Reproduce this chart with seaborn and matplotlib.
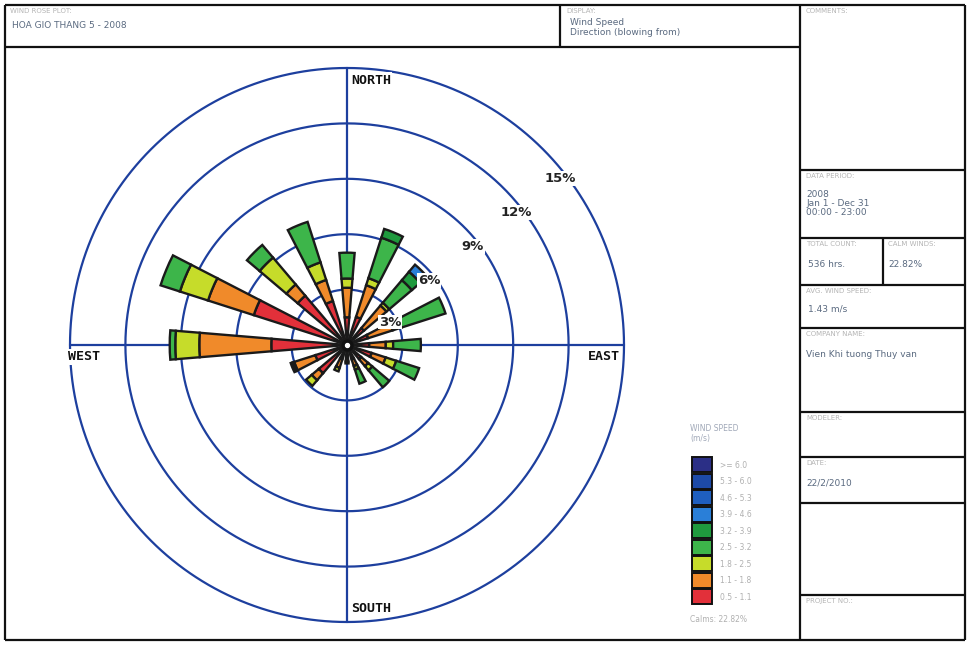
import numpy as np
import matplotlib
matplotlib.use("Agg")
import matplotlib.pyplot as plt
from matplotlib.patches import Rectangle
from matplotlib.lines import Line2D
import seaborn as sns

# ---- wind rose data: frequency (%) per direction and speed class ----
directions = ["N", "NNE", "NE", "ENE", "E", "ESE", "SE", "SSE",
              "S", "SSW", "SW", "WSW", "W", "WNW", "NW", "NNW"]
speed_labels = ["0.5 - 1.1", "1.1 - 1.8", "1.8 - 2.5", "2.5 - 3.2", "3.2 - 3.9",
                "3.9 - 4.6", "4.6 - 5.3", "5.3 - 6.0", ">= 6.0"]

freq_c1 = [1.5, 1.6, 1.2, 1.2, 1.2, 1.4, 1.0, 0.8, 0.6, 0.8, 2.0, 1.8, 4.1, 5.3, 3.5, 2.5]
freq_c2 = [1.6, 1.8, 1.6, 1.4, 0.9, 0.8, 0.5, 0.4, 0.3, 0.5, 0.5, 1.2, 3.9, 2.6, 0.8, 1.2]
freq_c3 = [0.5, 0.4, 0.2, 0.5, 0.4, 0.6, 0.3, 0.2, 0.1, 0.2, 0.4, 0.1, 1.3, 1.6, 1.9, 1.0]
freq_c4 = [1.4, 2.3, 1.6, 2.5, 1.5, 1.3, 1.2, 0.8, 0.0, 0.0, 0.0, 0.1, 0.3, 1.1, 0.9, 2.3]
freq_c5 = [0.0, 0.5, 0.6, 0.0, 0.0, 0.0, 0.0, 0.0, 0.0, 0.0, 0.0, 0.0, 0.0, 0.0, 0.0, 0.0]
freq_c6 = [0.0, 0.0, 0.5, 0.0, 0.0, 0.0, 0.0, 0.0, 0.0, 0.0, 0.0, 0.0, 0.0, 0.0, 0.0, 0.0]
freq_c7 = [0.0] * 16
freq_c8 = [0.0] * 16
freq_c9 = [0.0] * 16
class_freqs = [freq_c1, freq_c2, freq_c3, freq_c4, freq_c5,
               freq_c6, freq_c7, freq_c8, freq_c9]

ring_values = [3, 6, 9, 12, 15]
ring_labels = ["3%", "6%", "9%", "12%", "15%"]

plot_title = "HOA GIO THANG 5 - 2008"
calms_text = "22.82%"
total_count = "536 hrs."
avg_speed = "1.43 m/s"

sns.set_style("white")
plt.rcParams["font.family"] = ["DejaVu Sans"]

palette = sns.color_palette(["#e2303a", "#f08a2a", "#c6dc2a", "#3db54a", "#1f9a3e",
                             "#2a7fd8", "#1f5fbf", "#1d4aa8", "#2b2f86"])
ring_color = "#1d3f9e"

W, H = 967, 645
fig = plt.figure(figsize=(W / 100, H / 100), dpi=100)
fig.patch.set_facecolor("white")


def fx(x):
    return x / W


def fy(y):
    return 1 - y / H


# ---- rose axes ----
cx, cy, R = 347, 345, 277
ax = fig.add_axes([fx(cx - R), fy(cy + R), 2 * R / W, 2 * R / H], projection="polar")
ax.set_theta_zero_location("N")
ax.set_theta_direction(-1)
ax.set_ylim(0, ring_values[-1])
ax.grid(False)
ax.set_xticks([])
ax.set_yticks([])
ax.spines["polar"].set_visible(False)
ax.patch.set_alpha(0)

tt = np.linspace(0, 2 * np.pi, 721)
for rv in ring_values:
    ax.plot(tt, np.full_like(tt, rv), color=ring_color, lw=1.6, zorder=1, clip_on=False)
for ang in [0, np.pi / 2, np.pi, 3 * np.pi / 2]:
    ax.plot([ang, ang], [0, ring_values[-1]], color=ring_color, lw=1.6, zorder=1,
            clip_on=False)

theta = np.deg2rad(np.arange(len(directions)) * 22.5)
width = np.deg2rad(9.5)
bottom = np.zeros(len(directions))
for k, vals in enumerate(class_freqs):
    vals = np.asarray(vals)
    mask = vals > 0
    if mask.any():
        ax.bar(theta[mask], vals[mask], width=width, bottom=bottom[mask],
               color=palette[k], edgecolor="#1a1a1a", linewidth=1.7, zorder=3)
    bottom += vals

ax.scatter([0], [0], s=60, color="#111111", zorder=4)
ax.scatter([0], [0], s=8, color="white", zorder=5)

for rv, lab in zip(ring_values, ring_labels):
    ang = np.deg2rad(52 if rv > 3 else 62)
    ax.text(ang, rv - 0.35, lab, ha="center", va="center", fontsize=9.5,
            fontweight="bold", color="#222222", zorder=6,
            bbox=dict(facecolor="white", edgecolor="none", pad=0.6))

# compass labels
lab_kw = dict(fontsize=9.5, color="#111111", family="DejaVu Sans Mono", fontweight="bold",
              bbox=dict(facecolor="white", edgecolor="none", pad=1.0), zorder=10)
fig.text(fx(351), fy(80), "NORTH", ha="left", va="center", **lab_kw)
fig.text(fx(351), fy(609), "SOUTH", ha="left", va="center", **lab_kw)
fig.text(fx(68), fy(357), "WEST", ha="left", va="center", **lab_kw)
fig.text(fx(620), fy(357), "EAST", ha="right", va="center", **lab_kw)

# ---- frame and info boxes ----
frame_kw = dict(color="#111111", lw=1.6, solid_capstyle="butt")


def hline(y, x0, x1):
    fig.add_artist(Line2D([fx(x0), fx(x1)], [fy(y), fy(y)], **frame_kw))


def vline(x, y0, y1):
    fig.add_artist(Line2D([fx(x), fx(x)], [fy(y0), fy(y1)], **frame_kw))


hline(5, 5, 965)
hline(640, 5, 965)
vline(5, 5, 640)
vline(965, 5, 640)
hline(47, 5, 800)
vline(800, 5, 640)
vline(560, 5, 47)
for yy in [170, 238, 285, 328, 412, 457, 503, 595]:
    hline(yy, 800, 965)
vline(883, 238, 285)

small = dict(fontsize=5, color="#b5b5b5", ha="left", va="top")
body = dict(fontsize=6.5, color="#5a6a80", ha="left", va="top")

fig.text(fx(10), fy(8), "WIND ROSE PLOT:", **small)
fig.text(fx(12), fy(21), plot_title, **body)
fig.text(fx(566), fy(8), "DISPLAY:", **small)
fig.text(fx(570), fy(18), "Wind Speed\nDirection (blowing from)", linespacing=1.1, **body)
fig.text(fx(806), fy(8), "COMMENTS:", **small)
fig.text(fx(806), fy(173), "DATA PERIOD:", **small)
fig.text(fx(806), fy(190), "2008\nJan 1 - Dec 31\n00:00 - 23:00", linespacing=1.0, **body)
fig.text(fx(806), fy(241), "TOTAL COUNT:", **small)
fig.text(fx(808), fy(260), total_count, **body)
fig.text(fx(888), fy(241), "CALM WINDS:", **small)
fig.text(fx(888), fy(260), calms_text, **body)
fig.text(fx(806), fy(288), "AVG. WIND SPEED:", **small)
fig.text(fx(808), fy(305), avg_speed, **body)
fig.text(fx(806), fy(331), "COMPANY NAME:", **small)
fig.text(fx(806), fy(350), "Vien Khi tuong Thuy van", **body)
fig.text(fx(806), fy(415), "MODELER:", **small)
fig.text(fx(806), fy(460), "DATE:", **small)
fig.text(fx(806), fy(478), "22/2/2010", **body)
fig.text(fx(806), fy(598), "PROJECT NO.:", **small)

# ---- speed legend ----
fig.text(fx(690), fy(424), "WIND SPEED\n(m/s)", fontsize=5.5, color="#a0a8b8",
         ha="left", va="top", linespacing=1.2)
box_top, box_h = 457, 16.5
n = len(speed_labels)
for i in range(n):
    k = n - 1 - i
    y0 = box_top + i * box_h
    fig.add_artist(Rectangle((fx(692), fy(y0 + box_h - 1.5)), 20 / W, (box_h - 1.5) / H,
                             facecolor=palette[k], edgecolor="#111111", lw=1.4))
    fig.text(fx(720), fy(y0 + box_h / 2), speed_labels[k], fontsize=5.5,
             color="#b0b0b0", ha="left", va="center")
fig.text(fx(690), fy(620), "Calms: " + calms_text, fontsize=5.5, color="#b0b0b0",
         ha="left", va="center")

fig.savefig("out.png", dpi=100, facecolor="white")
